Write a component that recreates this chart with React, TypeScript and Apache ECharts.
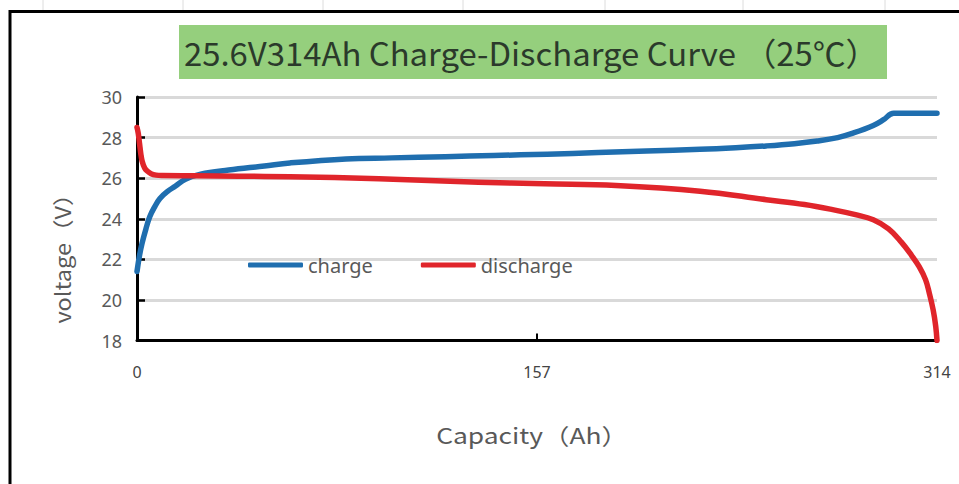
import React, { useEffect, useRef } from "react";
import * as echarts from "echarts";

const titleText = "25.6V314Ah Charge-Discharge Curve （25℃）";
const xAxisName = "Capacity（Ah）";
const yAxisName = "voltage（V）";
const seriesNames = ["charge", "discharge"];

const chargeCapacity = [0, 1, 2, 3.5, 5, 7, 9, 12, 15, 19, 25, 36, 50, 60, 82, 100, 121, 140, 161, 181, 200, 221, 235, 247, 258, 267, 275, 281, 289, 293, 297, 314];
const chargeVoltage = [21.4, 22.2, 22.8, 23.5, 24.1, 24.6, 25.0, 25.35, 25.6, 25.95, 26.2, 26.4, 26.6, 26.75, 26.95, 27.0, 27.06, 27.12, 27.18, 27.26, 27.34, 27.42, 27.5, 27.59, 27.7, 27.83, 28.0, 28.22, 28.6, 28.88, 29.2, 29.2];

const dischargeCapacity = [0, 0.5, 1, 1.5, 2, 3, 4, 5.5, 7.5, 10, 23, 40, 60, 95, 134, 160, 188, 221, 247, 262, 273, 282, 289, 295, 300, 304, 307, 309.5, 311, 312.5, 313.5, 314];
const dischargeVoltage = [28.5, 28.2, 27.7, 27.2, 26.85, 26.5, 26.35, 26.22, 26.15, 26.13, 26.12, 26.1, 26.07, 25.97, 25.8, 25.72, 25.64, 25.36, 24.94, 24.7, 24.45, 24.2, 23.95, 23.5, 22.85, 22.2, 21.64, 21.0, 20.32, 19.5, 18.7, 18.0];

const xMin = 0;
const xMax = 314;
const xInterval = 157;
const yMin = 18;
const yMax = 30;
const yInterval = 2;

const topGridMarks = [43, 183, 323, 463, 605, 743, 885];

export default function App() {
  const ref = useRef<HTMLDivElement>(null);
  useEffect(() => {
    if (!ref.current) return;
    const chart = echarts.init(ref.current, null, { renderer: "svg" });
    const pair = (xs: number[], ys: number[]) => xs.map((x, i) => [x, ys[i]]);
    const graphics: any[] = [
      ...topGridMarks.map((x) => ({
        type: "line",
        shape: { x1: x, y1: 0, x2: x, y2: 10 },
        style: { stroke: "#dcdcdc", lineWidth: 1 },
        silent: true,
      })),
      {
        type: "rect",
        shape: { x: 10, y: 11.5, width: 1000, height: 1000 },
        style: { fill: "none", stroke: "#000", lineWidth: 3 },
        silent: true,
      },
      {
        type: "rect",
        shape: { x: 179, y: 25, width: 708, height: 54 },
        style: { fill: "#95cf7d" },
        silent: true,
      },
      {
        type: "text",
        x: 184,
        y: 52,
        scaleX: 1.027,
        style: {
          text: titleText,
          fill: "#2b3a2b",
          font: '32px "Noto Sans CJK SC", "Noto Sans", sans-serif',
          textAlign: "left",
          textVerticalAlign: "middle",
          verticalAlign: "middle",
        },
        silent: true,
      },
      {
        type: "text",
        x: 62,
        y: 253,
        rotation: Math.PI / 2,
        scaleX: 1.12,
        style: {
          text: yAxisName,
          fill: "#595959",
          font: '21px "Noto Sans CJK SC", "Noto Sans", sans-serif',
          textAlign: "center",
          textVerticalAlign: "middle",
          verticalAlign: "middle",
        },
        silent: true,
      },
      {
        type: "text",
        x: 532,
        y: 434,
        scaleX: 1.2,
        style: {
          text: xAxisName,
          fill: "#595959",
          font: '22px "Noto Sans CJK SC", "Noto Sans", sans-serif',
          textAlign: "center",
          textVerticalAlign: "middle",
          verticalAlign: "middle",
        },
        silent: true,
      },
    ];
    chart.setOption({
      animation: false,
      backgroundColor: "#fff",
      grid: { left: 137, right: 22, top: 97, bottom: 143.5, containLabel: false },
      legend: {
        data: seriesNames,
        left: 248,
        top: 255,
        padding: 0,
        icon: "roundRect",
        itemWidth: 55,
        itemHeight: 5,
        itemGap: 48,
        textStyle: { color: "#595959", fontSize: 20, fontFamily: '"Noto Sans", sans-serif' },
      },
      xAxis: {
        type: "value",
        min: xMin,
        max: xMax,
        interval: xInterval,
        axisLine: { lineStyle: { color: "#000", width: 3 } },
        axisTick: { show: true, inside: true, length: 7, lineStyle: { color: "#000", width: 2 } },
        axisLabel: { color: "#444", fontSize: 16, margin: 23, fontFamily: '"Noto Sans", sans-serif' },
        splitLine: { show: false },
      },
      yAxis: {
        type: "value",
        min: yMin,
        max: yMax,
        interval: yInterval,
        axisLine: { show: true, lineStyle: { color: "#000", width: 3 } },
        axisTick: { show: true, inside: true, length: 8, lineStyle: { color: "#000", width: 2.5 } },
        axisLabel: { color: "#595959", fontSize: 18, margin: 15, fontFamily: '"Noto Sans", sans-serif' },
        splitLine: { show: true, lineStyle: { color: "#d9d9d9", width: 3 } },
      },
      series: [
        {
          name: seriesNames[0],
          type: "line",
          data: pair(chargeCapacity, chargeVoltage),
          showSymbol: false,
          smooth: 0.4,
          lineStyle: { color: "#1f6eaf", width: 5.5, cap: "round", join: "round" },
          itemStyle: { color: "#1f6eaf" },
        },
        {
          name: seriesNames[1],
          type: "line",
          data: pair(dischargeCapacity, dischargeVoltage),
          showSymbol: false,
          smooth: 0.4,
          lineStyle: { color: "#e0252b", width: 5.5, cap: "round", join: "round" },
          itemStyle: { color: "#e0252b" },
        },
      ],
      graphic: graphics,
    });
    return () => chart.dispose();
  }, []);
  return (
    <div
      ref={ref}
      style={{ position: "fixed", left: 0, top: 0, width: 959, height: 484 }}
    />
  );
}
